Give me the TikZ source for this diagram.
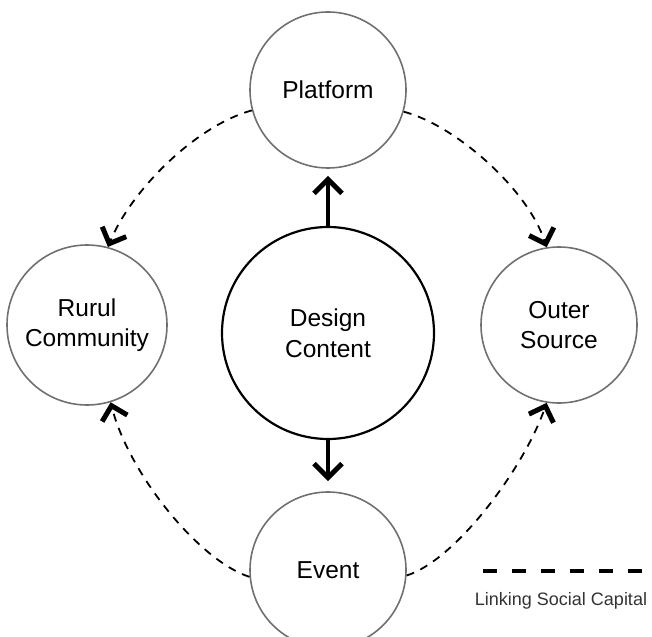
\documentclass[tikz,border=0pt]{standalone}
\usepackage{fontspec}
\setmainfont{Liberation Sans}
\usetikzlibrary{arrows.meta}
\definecolor{ringgray}{HTML}{707070}
\definecolor{legendtext}{HTML}{333333}
\begin{document}
\begin{tikzpicture}[x=1pt,y=-1pt,
  ring/.style={circle,draw=ringgray,line width=1.6pt,minimum size=156pt,inner sep=0pt,
    align=center,font=\fontsize{24.5}{30}\selectfont},
  corering/.style={circle,draw=black,line width=2.2pt,minimum size=212pt,inner sep=0pt,
    align=center,font=\fontsize{24.5}{31}\selectfont},
  flowarrow/.style={line width=3.4pt,-{Straight Barb[length=14pt,width=28pt,line width=5pt]}},
  linkarrow/.style={line width=1.8pt,dash pattern=on 8pt off 7pt,
    -{Straight Barb[length=13pt,width=26pt,line width=5pt]}},
  legendline/.style={line width=4.5pt,dash pattern=on 14pt off 15pt},
  legendlabel/.style={text=legendtext,font=\fontsize{18}{20}\selectfont}
]
\useasboundingbox (0,0) rectangle (652,636);

% nodes
\node[ring] (plat) at (328,90) {Platform};
\node[corering] (design) at (328,333) {Design\\Content};
\node[ring,minimum size=160pt] (rural) at (87,325) {Rurul\\Community};
\node[ring] (outer) at (559,325) {Outer\\Source};
\node[ring] (event) at (328,570) {Event};

% design content feeds platform and event
\draw[flowarrow,shorten >=7pt] (design) -- (plat);
\draw[flowarrow,shorten >=10pt] (design) -- (event);

% linking social capital
\draw[linkarrow] (plat.195) .. controls +(-55,15) and +(24,-58) .. (rural.75);
\draw[linkarrow] (plat.344) .. controls +(50,13) and +(-20,-60) .. (outer.99);
\draw[linkarrow] (event.185) .. controls +(-52,-17) and +(18,70) .. (rural.287);
\draw[linkarrow] (event.356) .. controls +(48,-15) and +(-24,68) .. (outer.261);

% legend
\coordinate (lgA) at (483,571);
\coordinate (lgB) at (647,571);
\draw[legendline] (lgA) -- (lgB);
\node[legendlabel] (lgtext) at (561,601) {Linking Social Capital};
\end{tikzpicture}
\end{document}
